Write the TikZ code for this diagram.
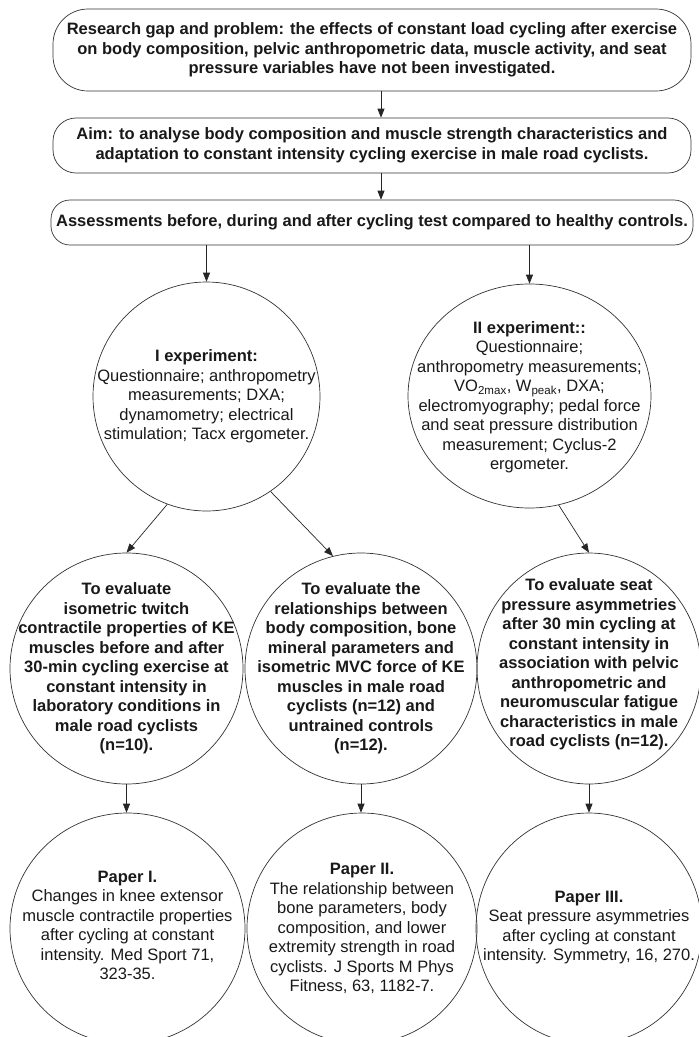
\documentclass[tikz,border=0pt]{standalone}
\usepackage{fontspec}
\setmainfont{Liberation Sans}
\usetikzlibrary{shapes.geometric,arrows.meta}
\newcommand{\dfs}{\fontsize{16.5}{19.5}\selectfont}
\tikzset{
  conn/.style={draw=black!85, line width=0.7pt, -{Triangle[length=9pt,width=7pt]}},
  rbox/.style={draw=black!80, line width=0.7pt, inner sep=0pt, align=center, font=\dfs\bfseries, text=black!90},
  ell/.style={draw=black!80, ellipse, line width=0.7pt, inner sep=0pt},
  etext/.style={align=center, inner sep=0pt, font=\dfs, text=black!90},
  btext/.style={align=center, inner sep=0pt, font=\dfs\bfseries, text=black!90},
}
\begin{document}
\begin{tikzpicture}[x=1pt,y=-1pt]
\clip (0,0) rectangle (699,1037);
\fill[white] (0,0) rectangle (699,1037);

% top boxes
\node[rbox, minimum width=638pt, minimum height=82pt, rounded corners=35pt] (b1) at (372,50)
  {Research gap and problem: the effects of constant load cycling after exercise\\
   on body composition, pelvic anthropometric data, muscle activity, and seat\\
   pressure variables have not been investigated.};
\node[rbox, minimum width=638pt, minimum height=55pt, rounded corners=23pt] (b2) at (372,145.5)
  {Aim: to analyse body composition and muscle strength characteristics and\\
   adaptation to constant intensity cycling exercise in male road cyclists.};
\node[rbox, minimum width=642pt, minimum height=45pt, rounded corners=19pt] (b3) at (372,222.5)
  {Assessments before, during and after cycling test compared to healthy controls.};

% experiment ellipses
\node[ell, minimum width=227pt, minimum height=229pt] (e1) at (206.5,396.5) {};
\node[etext] (e1t) at (e1.center)
  {\textbf{I experiment:}\\Questionnaire; anthropometry\\measurements; DXA;\\dynamometry; electrical\\stimulation; Tacx ergometer.};
\node[ell, minimum width=243pt, minimum height=224pt] (e2) at (529.5,396) {};
\node[etext] (e2t) at ([yshift=-1pt]e2.center)
  {\textbf{II experiment::}\\Questionnaire;\\anthropometry measurements;\\VO\textsubscript{2max}, W\textsubscript{peak}, DXA;\\electromyography; pedal force\\and seat pressure distribution\\measurement; Cyclus-2\\ergometer.};

% aim ellipses
\node[ell, minimum width=233pt, minimum height=231pt] (a1) at (126.5,668.5) {};
\node[btext] (a1t) at (a1.center)
  {To evaluate\\isometric twitch\\contractile properties of KE\\muscles before and after\\30-min cycling exercise at\\constant intensity in\\laboratory conditions in\\male road cyclists\\(n=10).};
\node[ell, minimum width=232pt, minimum height=231pt] (a2) at (361,668.5) {};
\node[btext] (a2t) at (a2.center)
  {To evaluate the\\relationships between\\body composition, bone\\mineral parameters and\\isometric MVC force of KE\\muscles in male road\\cyclists (n=12) and\\untrained controls\\(n=12).};
\node[ell, minimum width=224pt, minimum height=231pt] (a3) at (589,668.5) {};
\node[btext] (a3t) at ([yshift=4pt]a3.center)
  {To evaluate seat\\pressure asymmetries\\after 30 min cycling at\\constant intensity in\\association with pelvic\\anthropometric and\\neuromuscular fatigue\\characteristics in male\\road cyclists (n=12).};

% paper ellipses
\node[ell, minimum width=235pt, minimum height=231pt] (p1) at (127.5,928.5) {};
\node[etext] (p1t) at ([yshift=3pt]p1.center)
  {\textbf{Paper I.}\\Changes in knee extensor\\muscle contractile properties\\after cycling at constant\\intensity. Med Sport 71,\\323-35.};
\node[ell, minimum width=230pt, minimum height=231pt] (p2) at (362,928.5) {};
\node[etext] (p2t) at (p2.center)
  {\textbf{Paper II.}\\The relationship between\\bone parameters, body\\composition, and lower\\extremity strength in road\\cyclists. J Sports M Phys\\Fitness, 63, 1182-7.};
\node[ell, minimum width=226pt, minimum height=231pt] (p3) at (589,928.5) {};
\node[etext] (p3t) at ([yshift=1pt]p3.center)
  {\textbf{Paper III.}\\Seat pressure asymmetries\\after cycling at constant\\intensity. Symmetry, 16, 270.};

% connectors
\draw[conn] ([xshift=9pt]b1.south) -- ([xshift=9pt]b2.north);
\draw[conn] ([xshift=9pt]b2.south) -- ([xshift=9pt]b3.north);
\draw[conn] (e1.north |- b3.south) -- (e1.north);
\draw[conn] (e2.north |- b3.south) -- (e2.north);
\draw[conn] (e1.250) -- (a1.north);
\draw[conn] (e1.304) -- (a2.104);
\draw[conn] (e2.285) -- (a3.north);
\draw[conn] (a1.south) -- (a1.south |- p1.north);
\draw[conn] (a2.south) -- (a2.south |- p2.north);
\draw[conn] (a3.south) -- (a3.south |- p3.north);
\end{tikzpicture}
\end{document}
